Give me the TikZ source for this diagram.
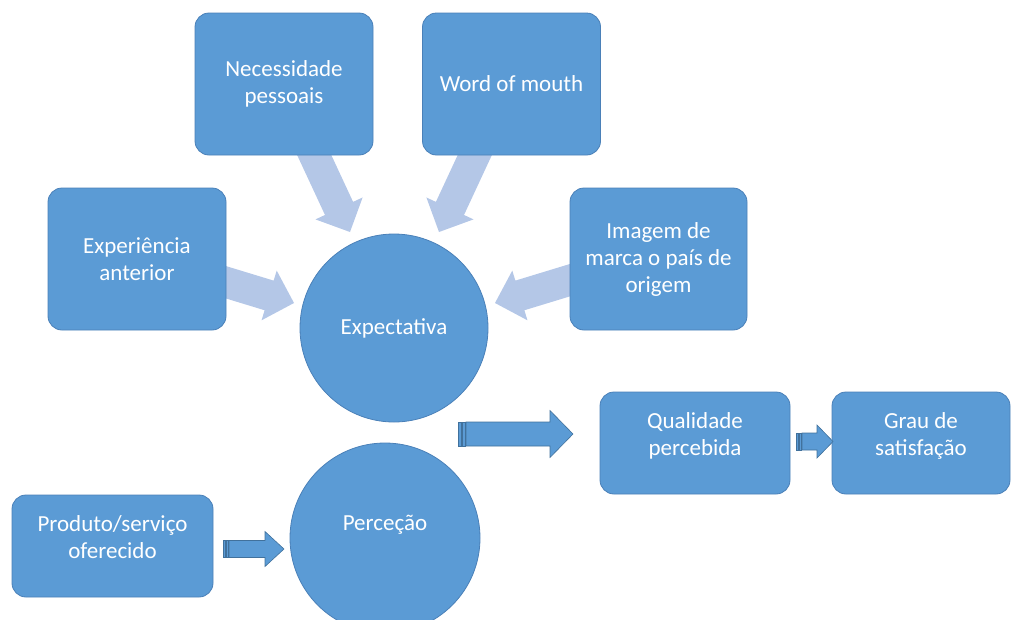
\documentclass[tikz,border=0pt]{standalone}
\usepackage{fontspec}
\setmainfont{Carlito}
\usetikzlibrary{calc}

\definecolor{boxblue}{RGB}{91,155,213}
\definecolor{boxline}{RGB}{74,128,184}
\definecolor{paleblue}{RGB}{180,199,231}
\definecolor{arrowline}{RGB}{65,113,156}

% block arrow: style, tail, tip, half shaft, half head, head length
\newcommand{\fatarrow}[6]{%
  \coordinate (fa-base) at ($(#3)!#6!(#2)$);
  \path[#1] ($(#2)!#4!90:(#3)$) -- ($(fa-base)!#4!-90:(#2)$) -- ($(fa-base)!#5!-90:(#2)$) -- (#3)
    -- ($(fa-base)!#5!90:(#2)$) -- ($(fa-base)!#4!90:(#2)$) -- ($(#2)!#4!-90:(#3)$) -- cycle;
}

\begin{document}
\begin{tikzpicture}[x=1pt, y=-1pt,
  box/.style={draw=boxline, line width=0.8pt, fill=boxblue, rounded corners=14pt,
    text=white, align=center, font=\fontsize{23}{27}\selectfont, inner sep=0pt},
  bigbox/.style={box, minimum width=178pt, minimum height=142pt},
  smallbox/.style={box, minimum height=102pt, text depth=18pt},
  ball/.style={circle, draw=boxline, line width=0.8pt, fill=boxblue, inner sep=0pt,
    text=white, font=\fontsize{23}{27}\selectfont},
  pale/.style={fill=paleblue},
  bluearrow/.style={fill=boxblue, draw=arrowline, line width=0.6pt},
  stripe/.style={fill=boxblue, draw=arrowline, line width=0.5pt}]
\useasboundingbox (0,0) rectangle (1011,619);

% pale arrows into the expectation
\coordinate (necTail) at (303.5,132);
\coordinate (necTip) at (350,232);
\coordinate (womTail) at (485.5,132);
\coordinate (womTip) at (439,232);
\coordinate (expTail) at (189,271);
\coordinate (expTip) at (294,303);
\coordinate (imgTail) at (600,271);
\coordinate (imgTip) at (495,303);
\fatarrow{pale}{necTail}{necTip}{15.5pt}{26pt}{26pt}
\fatarrow{pale}{womTail}{womTip}{15.5pt}{26pt}{26pt}
\fatarrow{pale}{expTail}{expTip}{15.5pt}{26pt}{26pt}
\fatarrow{pale}{imgTail}{imgTip}{15.5pt}{26pt}{26pt}

\node[bigbox] (nec) at (284,84) {Necessidade\\pessoais};
\node[bigbox] (wom) at (511.5,84) {Word of mouth};
\node[bigbox] (exp) at (137,259) {Experiência\\anterior};
\node[bigbox, minimum width=177pt] (img) at (658.5,259) {Imagem de\\marca o país de\\origem};

\node[ball, minimum size=188pt] (expect) at (394,328) {Expectativa};
\node[ball, minimum size=190pt, text depth=31pt] (percep) at (385,538) {Perceção};

\node[smallbox, minimum width=201pt] (prod) at (112.5,546) {Produto/serviço\\oferecido};
\node[smallbox, minimum width=190pt] (qual) at (695,443) {Qualidade\\percebida};
\node[smallbox, minimum width=178pt] (grau) at (921,443) {Grau de\\satisfação};

% striped block arrows
\coordinate (qualTail) at (466,434);
\coordinate (qualTip) at (573,434);
\draw[stripe] (458,422) rectangle (461,446);
\draw[stripe] (462.5,422) rectangle (465,446);
\fatarrow{bluearrow}{qualTail}{qualTip}{12pt}{23.5pt}{23pt}

\coordinate (grauTail) at (802,441.5);
\coordinate (grauTip) at (833,441.5);
\draw[stripe] (796,433) rectangle (798.5,450);
\draw[stripe] (799.5,433) rectangle (801.5,450);
\fatarrow{bluearrow}{grauTail}{grauTip}{8.5pt}{16.5pt}{16pt}

\coordinate (percTail) at (229,549);
\coordinate (percTip) at (284,549);
\draw[stripe] (223,540.5) rectangle (225.5,557.5);
\draw[stripe] (226.5,540.5) rectangle (228.5,557.5);
\fatarrow{bluearrow}{percTail}{percTip}{8.5pt}{17.5pt}{19pt}
\end{tikzpicture}
\end{document}
